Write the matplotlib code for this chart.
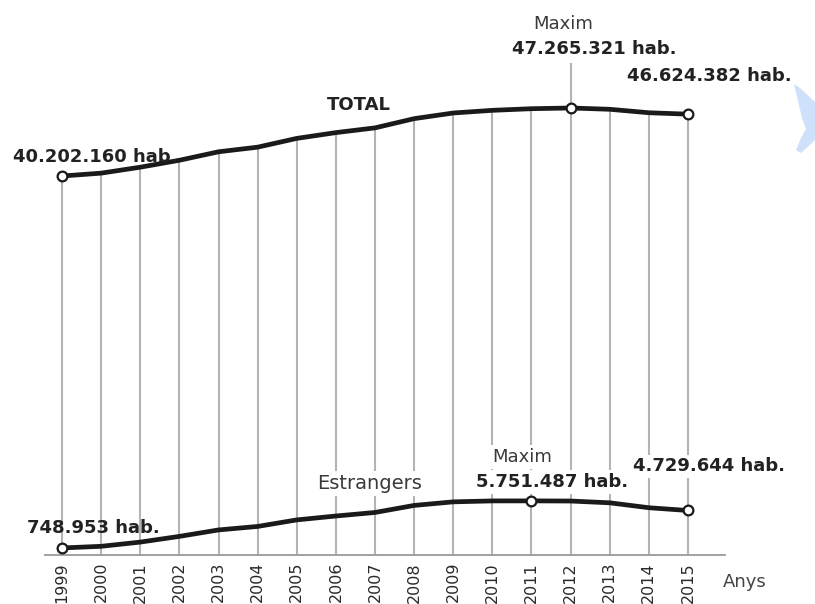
import matplotlib
matplotlib.use("Agg")
import matplotlib.pyplot as plt
import numpy as np
from matplotlib.patches import Polygon

# Poblacio total i estrangera (habitants), 1999-2015
YEARS = list(range(1999, 2016))
TOTAL = [40202160, 40499791, 41116842, 41837894, 42717064, 43197684,
         44108530, 44708964, 45200737, 46157822, 46745807, 47021031,
         47190493, 47265321, 47129783, 46771341, 46624382]
FOREIGN = [748953, 923879, 1370657, 1977946, 2664168, 3034326,
           3730610, 4144166, 4519554, 5268762, 5648671, 5747734,
           5751487, 5736258, 5546238, 5023487, 4729644]

TOTAL_LABELS = ["40.202.160 hab.", "47.265.321 hab.", "46.624.382 hab."]
FOREIGN_LABELS = ["748.953 hab.", "5.751.487 hab.", "4.729.644 hab."]

GRID = "#b4b4b4"
INK = "#1a1a1a"
FONT = "DejaVu Sans"

W, H = 815, 604


def fig_box(left, top, right, bottom):
    """pixel box -> figure fraction [l, b, w, h]"""
    return [left / W, (H - bottom) / H, (right - left) / W, (bottom - top) / H]


def main():
    plt.rcParams["font.family"] = FONT
    fig = plt.figure(figsize=(W / 100, H / 100), dpi=100)

    ax_top = fig.add_axes(fig_box(45, 20, 725, 300))
    ax_bot = fig.add_axes(fig_box(45, 300, 725, 555))

    years = np.array(YEARS)
    tot = np.array(TOTAL) / 1e6
    fgn = np.array(FOREIGN) / 1e6

    xlim = (1998.565, 2015.946)
    for ax in (ax_top, ax_bot):
        ax.set_xlim(*xlim)
        for s in ax.spines.values():
            s.set_visible(False)
        ax.set_yticks([])

    ax_top.set_ylim(27.33, 56.4)
    ax_bot.set_ylim(0, 27.1)

    i_tmax = int(np.argmax(tot))
    i_fmax = int(np.argmax(fgn))

    # vertical guide lines, running from the total curve to the axis
    for k, (x, y) in enumerate(zip(years, tot)):
        top = y + 4.7 if k == i_tmax else y
        ax_top.plot([x, x], [27.33, top], color=GRID, lw=1.5, zorder=1,
                    clip_on=False, solid_capstyle="butt")
        ax_bot.plot([x, x], [0, 27.1], color=GRID, lw=1.5, zorder=1,
                    clip_on=False, solid_capstyle="butt")

    ax_bot.spines["bottom"].set_visible(True)
    ax_bot.spines["bottom"].set_color("#9a9a9a")
    ax_bot.spines["bottom"].set_linewidth(1.3)

    line_kw = dict(color=INK, lw=3.4, solid_joinstyle="round",
                   solid_capstyle="round", zorder=4)
    ax_top.plot(years, tot, **line_kw)
    ax_bot.plot(years, fgn, **line_kw)

    mk = dict(marker="o", ms=7, mfc="white", mec=INK, mew=1.6,
              ls="none", zorder=6, clip_on=False)
    idx_t = [0, i_tmax, len(YEARS) - 1]
    idx_f = [0, i_fmax, len(YEARS) - 1]
    ax_top.plot(years[idx_t], tot[idx_t], **mk)
    ax_bot.plot(years[idx_f], fgn[idx_f], **mk)

    bold = dict(fontsize=13, fontweight="bold", color="#222222",
                textcoords="offset pixels", va="center", zorder=5)
    plain = dict(fontsize=13, color="#3a3a3a", textcoords="offset pixels",
                 va="center", zorder=5)
    box = dict(boxstyle="square,pad=0.15", fc="white", ec="none")

    # total labels
    ax_top.annotate(TOTAL_LABELS[0], (years[0], tot[0]), xytext=(-49, 19),
                    ha="left", **bold)
    ax_top.annotate(TOTAL_LABELS[1], (years[i_tmax], tot[i_tmax]),
                    xytext=(24, 59), ha="center", **bold)
    ax_top.annotate("Maxim", (years[i_tmax], tot[i_tmax]),
                    xytext=(-7, 84), ha="center", **plain)
    ax_top.annotate(TOTAL_LABELS[2], (years[-1], tot[-1]), xytext=(21, 38),
                    ha="center", **bold)
    ax_top.annotate("TOTAL", (2007, tot[YEARS.index(2007)]),
                    xytext=(-16, 23), ha="center", **bold)

    # foreign labels
    ax_bot.annotate(FOREIGN_LABELS[0], (years[0], fgn[0]), xytext=(31, 20),
                    ha="center", **bold)
    ax_bot.annotate("Maxim", (years[i_fmax], fgn[i_fmax]),
                    xytext=(-9, 44), ha="center", bbox=box, **plain)
    ax_bot.annotate(FOREIGN_LABELS[1], (years[i_fmax], fgn[i_fmax]),
                    xytext=(21, 19), ha="center", bbox=box, **bold)
    ax_bot.annotate(FOREIGN_LABELS[2], (years[-1], fgn[-1]), xytext=(21, 44),
                    ha="center", bbox=box, **bold)
    ax_bot.annotate("Estrangers", (2007, fgn[YEARS.index(2007)]),
                    xytext=(-5, 29), ha="center", bbox=box,
                    **{**plain, "fontsize": 14})

    ax_bot.set_xticks(years)
    ax_bot.set_xticklabels([str(y) for y in YEARS], rotation=90,
                           fontsize=11.5, color="#2a2a2a")
    ax_bot.tick_params(axis="x", length=0, pad=5)
    ax_top.set_xticks([])

    fig.text(745 / W, (H - 582) / H, "Anys", fontsize=13, color="#444444",
             ha="center", va="center")

    # pale blue shape at the right edge of the original image
    pts = [(794, 84), (800, 88), (815, 102), (815, 140), (801, 153),
           (796, 150), (801, 138), (806, 129), (802, 118)]
    shape = Polygon([(x / W, (H - y) / H) for x, y in pts], closed=True,
                    fc="#cfe0fa", ec="none", transform=fig.transFigure)
    fig.patches.append(shape)

    fig.savefig("out.png", dpi=100, facecolor="white")


if __name__ == "__main__":
    main()
